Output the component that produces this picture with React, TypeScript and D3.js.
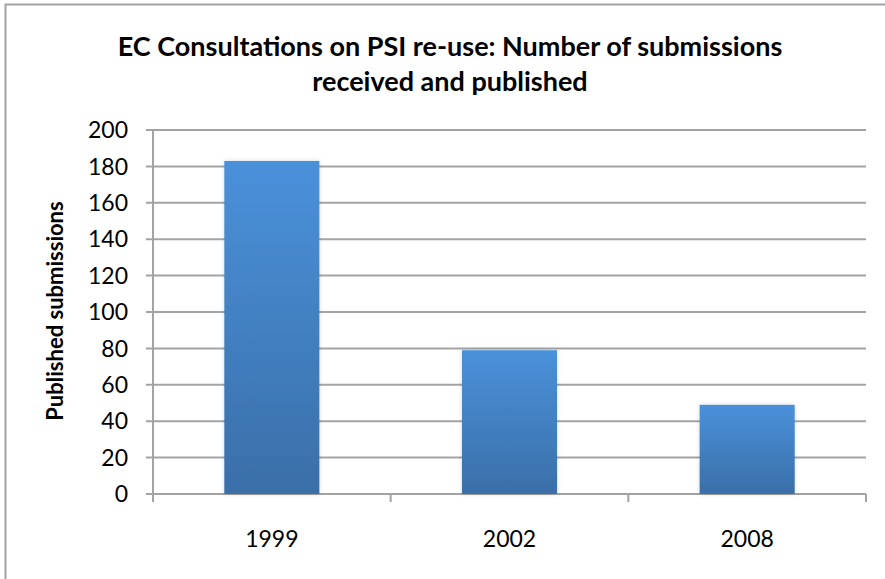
import { useEffect, useRef } from 'react';
import * as d3 from 'd3';

const years = ['1999', '2002', '2008'];
const submissions = [183, 79, 49];
const yTicks = [0, 20, 40, 60, 80, 100, 120, 140, 160, 180, 200];
const titleLines = ['EC Consultations on PSI re-use: Number of submissions', 'received and published'];
const yLabel = 'Published submissions';

export default function App() {
  const svgRef = useRef<SVGSVGElement>(null);
  const width = 885;
  const height = 579;

  useEffect(() => {
    if (!svgRef.current) return;
    const svg = d3.select(svgRef.current);
    svg.selectAll('*').remove();

    const margin = { top: 130, right: 19, bottom: 85, left: 153 };
    const innerWidth = width - margin.left - margin.right;
    const innerHeight = height - margin.top - margin.bottom;
    const font = 'Lato, "Open Sans", sans-serif';
    const grey = '#a3a3a3';

    const defs = svg.append('defs');
    const grad = defs.append('linearGradient')
      .attr('id', 'barFill')
      .attr('x1', 0).attr('y1', 0).attr('x2', 0).attr('y2', 1);
    grad.append('stop').attr('offset', '0%').attr('stop-color', '#4a91da');
    grad.append('stop').attr('offset', '100%').attr('stop-color', '#3a6fa8');

    const shadow = defs.append('filter')
      .attr('id', 'barShadow')
      .attr('x', '-20%').attr('y', '-20%').attr('width', '140%').attr('height', '140%');
    shadow.append('feDropShadow')
      .attr('dx', 0).attr('dy', 0).attr('stdDeviation', 2)
      .attr('flood-color', '#000').attr('flood-opacity', 0.15);

    svg.append('rect')
      .attr('width', width).attr('height', height).attr('fill', '#fff');

    // chart frame (only top and left edges fall inside the picture)
    svg.append('rect')
      .attr('x', 5.5).attr('y', 4.5)
      .attr('width', width + 20).attr('height', height + 20)
      .attr('fill', 'none')
      .attr('stroke', grey)
      .attr('stroke-width', 2);

    // title
    const title = svg.append('text')
      .attr('text-anchor', 'middle')
      .style('font-family', font)
      .style('font-weight', 'bold')
      .style('font-size', '27px')
      .attr('fill', '#000');
    titleLines.forEach((line, i) => {
      title.append('tspan')
        .attr('x', 450)
        .attr('y', 56 + i * 35)
        .text(line);
    });

    const g = svg.append('g')
      .attr('transform', `translate(${margin.left},${margin.top})`);

    const x = d3.scaleBand<string>()
      .domain(years)
      .range([0, innerWidth])
      .paddingInner(0.6)
      .paddingOuter(0.3);

    const y = d3.scaleLinear()
      .domain([0, 200])
      .range([innerHeight, 0]);

    // gridlines
    g.selectAll('.grid')
      .data(yTicks)
      .enter().append('line')
      .attr('x1', -7)
      .attr('x2', innerWidth)
      .attr('y1', d => y(d))
      .attr('y2', d => y(d))
      .attr('stroke', grey)
      .attr('stroke-width', 2);

    // y axis line
    g.append('line')
      .attr('x1', 0).attr('x2', 0)
      .attr('y1', 0).attr('y2', innerHeight + 8)
      .attr('stroke', grey)
      .attr('stroke-width', 2);

    // x category ticks
    const step = innerWidth / years.length;
    g.selectAll('.xtick')
      .data(d3.range(years.length + 1))
      .enter().append('line')
      .attr('x1', d => d * step)
      .attr('x2', d => d * step)
      .attr('y1', innerHeight)
      .attr('y2', innerHeight + 8)
      .attr('stroke', grey)
      .attr('stroke-width', 2);

    // bars
    g.selectAll('.bar')
      .data(submissions)
      .enter().append('rect')
      .attr('x', (_, i) => x(years[i])!)
      .attr('y', d => y(d))
      .attr('width', x.bandwidth())
      .attr('height', d => innerHeight - y(d))
      .attr('fill', 'url(#barFill)')
      .style('filter', 'url(#barShadow)');

    // y tick labels
    g.selectAll('.ylabel')
      .data(yTicks)
      .enter().append('text')
      .attr('x', -25)
      .attr('y', d => y(d))
      .attr('dy', '0.36em')
      .attr('text-anchor', 'end')
      .style('font-family', font)
      .style('font-size', '23px')
      .attr('fill', '#000')
      .text(d => d);

    // x tick labels
    g.selectAll('.xlabel')
      .data(years)
      .enter().append('text')
      .attr('x', d => x(d)! + x.bandwidth() / 2)
      .attr('y', innerHeight + 53)
      .attr('text-anchor', 'middle')
      .style('font-family', font)
      .style('font-size', '23px')
      .attr('fill', '#000')
      .text(d => d);

    // y axis title
    svg.append('text')
      .attr('transform', `translate(63,${margin.top + innerHeight / 2 - 1}) rotate(-90)`)
      .attr('text-anchor', 'middle')
      .style('font-family', font)
      .style('font-weight', 'bold')
      .style('font-size', '22px')
      .attr('fill', '#000')
      .text(yLabel);
  }, []);

  return (
    <svg
      ref={svgRef}
      width={width}
      height={height}
      style={{ position: 'absolute', left: 0, top: 0, display: 'block' }}
    />
  );
}
